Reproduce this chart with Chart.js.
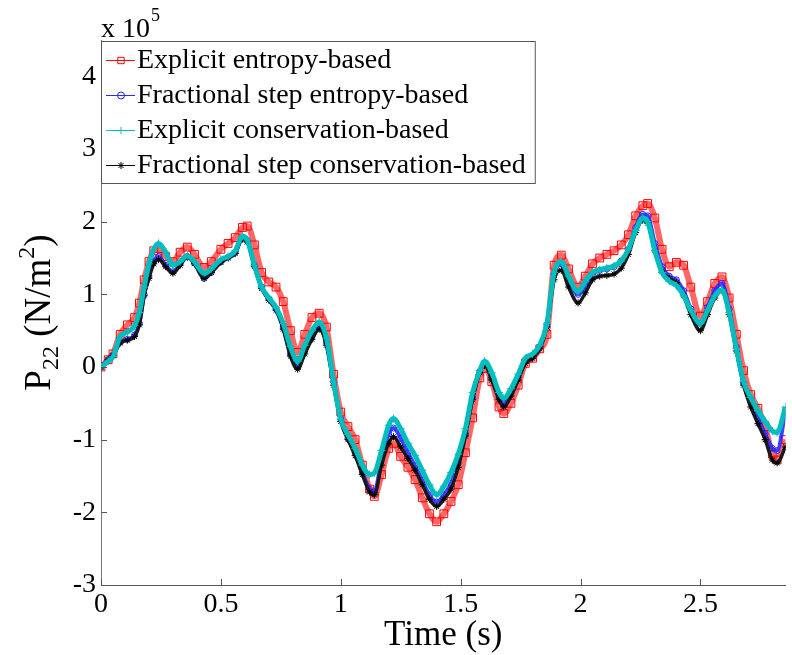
<!DOCTYPE html>
<html>
<head>
<meta charset="utf-8">
<title>P22 history</title>
<script src="https://cdn.jsdelivr.net/npm/chart.js@4.4.1/dist/chart.umd.min.js"></script>
<style>
  html, body { margin: 0; padding: 0; background: #fff; overflow: hidden; }
  canvas { display: block; }
</style>
</head>
<body>
<canvas id="p22Chart" width="792" height="655"></canvas>
<script>
// P22 vs time, values in units of 1e5 N/m^2
const time = [
  0, 0.03, 0.05, 0.08, 0.11, 0.14, 0.16, 0.18, 0.2, 0.22,
  0.24, 0.27, 0.3, 0.33, 0.36, 0.39, 0.43, 0.46, 0.5, 0.53,
  0.56, 0.59, 0.61, 0.64, 0.67, 0.7, 0.73, 0.76, 0.79, 0.82,
  0.85, 0.88, 0.91, 0.94, 0.97, 1.0, 1.03, 1.06, 1.09, 1.12,
  1.14, 1.17, 1.2, 1.22, 1.25, 1.28, 1.31, 1.34, 1.37, 1.4,
  1.43, 1.46, 1.49, 1.52, 1.55, 1.58, 1.6, 1.63, 1.66, 1.68,
  1.71, 1.74, 1.77, 1.8, 1.83, 1.86, 1.89, 1.92, 1.95, 1.99,
  2.02, 2.05, 2.08, 2.11, 2.14, 2.17, 2.2, 2.23, 2.26, 2.28,
  2.31, 2.34, 2.37, 2.4, 2.43, 2.46, 2.5, 2.53, 2.56, 2.59,
  2.62, 2.65, 2.68, 2.71, 2.74, 2.77, 2.8, 2.82, 2.855
];

const explicitEntropy = [
  0.0, 0.10, 0.18, 0.45, 0.58, 0.68, 0.88, 1.20, 1.45, 1.60,
  1.63, 1.52, 1.45, 1.58, 1.65, 1.55, 1.37, 1.45, 1.62, 1.70,
  1.78, 1.92, 1.94, 1.68, 1.30, 1.17, 1.10, 0.90, 0.50, 0.20,
  0.45, 0.68, 0.74, 0.55, -0.10, -0.62, -0.82, -1.00, -1.35, -1.68,
  -1.78, -1.48, -1.12, -1.05, -1.23, -1.38, -1.55, -1.80, -2.02, -2.13,
  -2.02, -1.85, -1.62, -1.18, -0.70, -0.15, -0.02, -0.20, -0.55, -0.64,
  -0.50, -0.25, 0.05, 0.12, 0.25, 0.45, 1.40, 1.54, 1.35, 1.10,
  1.25, 1.42, 1.50, 1.55, 1.60, 1.68, 1.82, 2.08, 2.22, 2.25,
  2.05, 1.62, 1.38, 1.44, 1.40, 1.10, 0.70, 0.90, 1.15, 1.24,
  0.95, 0.45, -0.05, -0.38, -0.57, -0.82, -1.20, -1.28, -1.00
];

const fractionalEntropy = [
  0.0, 0.10, 0.16, 0.34, 0.38, 0.44, 0.60, 1.00, 1.25, 1.45,
  1.52, 1.40, 1.31, 1.42, 1.52, 1.43, 1.22, 1.30, 1.45, 1.51,
  1.58, 1.77, 1.74, 1.40, 1.10, 0.94, 0.80, 0.55, 0.18, 0.00,
  0.22, 0.42, 0.55, 0.34, -0.20, -0.72, -0.98, -1.18, -1.45, -1.68,
  -1.72, -1.28, -0.92, -0.84, -0.98, -1.18, -1.36, -1.56, -1.76, -1.86,
  -1.76, -1.60, -1.32, -0.92, -0.42, -0.06, 0.04, -0.15, -0.42, -0.50,
  -0.36, -0.15, 0.08, 0.15, 0.28, 0.58, 1.28, 1.42, 1.20, 1.00,
  1.12, 1.28, 1.33, 1.35, 1.38, 1.46, 1.62, 1.92, 2.10, 2.08,
  1.70, 1.38, 1.25, 1.20, 1.05, 0.80, 0.60, 0.82, 1.05, 1.15,
  0.80, 0.28, -0.22, -0.48, -0.70, -0.92, -1.12, -1.15, -0.60
];

const explicitConservation = [
  0.0, 0.08, 0.14, 0.42, 0.48, 0.57, 0.75, 1.10, 1.42, 1.62,
  1.70, 1.58, 1.40, 1.45, 1.53, 1.45, 1.29, 1.35, 1.48, 1.52,
  1.60, 1.80, 1.75, 1.40, 1.10, 0.95, 0.82, 0.60, 0.28, 0.08,
  0.30, 0.50, 0.62, 0.40, -0.20, -0.72, -0.93, -1.12, -1.35, -1.48,
  -1.46, -1.15, -0.80, -0.71, -0.85, -1.05, -1.22, -1.42, -1.62, -1.76,
  -1.64, -1.45, -1.20, -0.85, -0.35, -0.05, 0.08, -0.08, -0.35, -0.43,
  -0.30, -0.10, 0.12, 0.18, 0.30, 0.60, 1.30, 1.45, 1.25, 1.04,
  1.18, 1.30, 1.34, 1.36, 1.39, 1.46, 1.62, 1.88, 2.05, 2.00,
  1.60, 1.30, 1.18, 1.12, 0.98, 0.78, 0.60, 0.78, 0.98, 1.06,
  0.75, 0.25, -0.20, -0.42, -0.60, -0.75, -0.88, -0.90, -0.55
];

const fractionalConservation = [
  0.0, 0.10, 0.16, 0.33, 0.37, 0.42, 0.58, 0.98, 1.22, 1.42,
  1.48, 1.38, 1.29, 1.40, 1.51, 1.42, 1.22, 1.30, 1.44, 1.50,
  1.56, 1.76, 1.72, 1.38, 1.08, 0.92, 0.78, 0.52, 0.15, -0.03,
  0.18, 0.38, 0.52, 0.30, -0.25, -0.75, -1.00, -1.22, -1.48, -1.72,
  -1.76, -1.35, -1.05, -0.96, -1.10, -1.26, -1.42, -1.62, -1.82, -1.92,
  -1.82, -1.68, -1.38, -0.95, -0.45, -0.08, 0.02, -0.18, -0.45, -0.55,
  -0.40, -0.18, 0.05, 0.12, 0.25, 0.55, 1.20, 1.33, 1.10, 0.88,
  1.02, 1.20, 1.25, 1.26, 1.28, 1.36, 1.55, 1.85, 2.02, 1.98,
  1.60, 1.32, 1.22, 1.16, 0.98, 0.72, 0.50, 0.72, 0.95, 1.05,
  0.72, 0.22, -0.25, -0.55, -0.78, -1.00, -1.28, -1.32, -1.10
];

const seriesNames = [
  "Explicit entropy-based",
  "Fractional step entropy-based",
  "Explicit conservation-based",
  "Fractional step conservation-based"
];

const xTicks = [0, 0.5, 1, 1.5, 2, 2.5];
const yTicks = [-3, -2, -1, 0, 1, 2, 3, 4];

const FONT = "'Liberation Serif', 'Times New Roman', serif";

function toPoints(values) {
  return values.map((v, i) => ({ x: time[i], y: v }));
}

// marker look per series (also used by the legend)
const styles = [
  { line: "rgba(255,0,0,0.6)", mark: "#ff0000", width: 6, pointStyle: "rect", radius: 5.5, order: 4 },
  { line: "rgba(30,30,255,0.85)", mark: "#2a2aff", width: 4, pointStyle: "circle", radius: 3, order: 3 },
  { line: "rgb(0,190,190)", mark: "rgb(0,190,190)", width: 5, pointStyle: "cross", radius: 4, order: 1 },
  { line: "#1a1a1a", mark: "#000", width: 3.5, pointStyle: "star", radius: 3.5, order: 2 }
];

const allValues = [explicitEntropy, fractionalEntropy, explicitConservation, fractionalConservation];

const datasets = allValues.map((vals, i) => ({
  label: seriesNames[i],
  data: toPoints(vals),
  borderColor: styles[i].line,
  borderWidth: styles[i].width,
  pointStyle: styles[i].pointStyle,
  pointRadius: styles[i].radius,
  pointBorderColor: styles[i].mark,
  pointBackgroundColor: "rgba(0,0,0,0)",
  pointBorderWidth: 1,
  cubicInterpolationMode: "monotone",
  order: styles[i].order
}));

// axes ticks inside, legend box, axis titles
const matlabFrame = {
  id: "matlabFrame",
  afterDraw(chart) {
    const { ctx, chartArea: area, scales: { x, y } } = chart;
    ctx.save();

    // inward tick marks
    ctx.strokeStyle = "#555";
    ctx.lineWidth = 1;
    ctx.beginPath();
    xTicks.forEach(v => {
      const px = Math.round(x.getPixelForValue(v)) + 0.5;
      ctx.moveTo(px, area.bottom);
      ctx.lineTo(px, area.bottom - 6);
    });
    yTicks.forEach(v => {
      const py = Math.round(y.getPixelForValue(v)) + 0.5;
      ctx.moveTo(area.left, py);
      ctx.lineTo(area.left + 6, py);
    });
    ctx.stroke();

    // legend
    ctx.font = "28px " + FONT;
    const textX = area.left + 36;
    const maxW = Math.max(...seriesNames.map(s => ctx.measureText(s).width));
    const boxL = area.left + 0.5, boxT = 41.5;
    const boxW = textX + maxW + 9 - area.left, boxH = 142;
    ctx.fillStyle = "#fff";
    ctx.fillRect(boxL, boxT, boxW, boxH);
    ctx.strokeStyle = "#555";
    ctx.strokeRect(boxL, boxT, boxW, boxH);
    seriesNames.forEach((name, i) => {
      const ry = 60 + i * 35;
      const st = styles[i];
      ctx.strokeStyle = st.mark;
      ctx.lineWidth = 1;
      ctx.beginPath();
      ctx.moveTo(area.left + 5, ry + 0.5);
      ctx.lineTo(area.left + 34, ry + 0.5);
      ctx.stroke();
      ctx.fillStyle = "rgba(0,0,0,0)";
      Chart.helpers.drawPoint(ctx, {
        pointStyle: st.pointStyle,
        radius: st.pointStyle === "rect" ? 4.5 : 3.5,
        rotation: 0,
        borderWidth: 1
      }, area.left + 20, ry + 0.5);
      ctx.fillStyle = "#000";
      ctx.textAlign = "left";
      ctx.textBaseline = "middle";
      ctx.fillText(name, textX, ry + 1);
    });

    // exponent label
    ctx.fillStyle = "#000";
    ctx.textBaseline = "alphabetic";
    ctx.textAlign = "left";
    ctx.font = "28px " + FONT;
    ctx.fillText("x 10", area.left, 37);
    const w10 = ctx.measureText("x 10").width;
    ctx.font = "18px " + FONT;
    ctx.fillText("5", area.left + w10 + 1, 21);

    // x title
    ctx.font = "35px " + FONT;
    ctx.textAlign = "center";
    ctx.fillText("Time (s)", (area.left + area.right) / 2, 645);

    // y title P_22 (N/m^2)
    const parts = [
      { t: "P", size: 37, dy: 0 },
      { t: "22", size: 24, dy: 8 },
      { t: " (N/m", size: 37, dy: 0 },
      { t: "2", size: 24, dy: -16 },
      { t: ")", size: 37, dy: 0 }
    ];
    let total = 0;
    parts.forEach(p => {
      ctx.font = p.size + "px " + FONT;
      p.w = ctx.measureText(p.t).width;
      total += p.w;
    });
    ctx.translate(50, (area.top + area.bottom) / 2);
    ctx.rotate(-Math.PI / 2);
    ctx.textAlign = "left";
    let cx = -total / 2;
    parts.forEach(p => {
      ctx.font = p.size + "px " + FONT;
      ctx.fillText(p.t, cx, p.dy);
      cx += p.w;
    });
    ctx.restore();
  }
};

const ctx = document.getElementById("p22Chart").getContext("2d");

const p22Chart = new Chart(ctx, {
  type: "line",
  data: { datasets: datasets },
  plugins: [matlabFrame],
  options: {
    responsive: false,
    animation: false,
    devicePixelRatio: 1,
    layout: { padding: { top: 40, right: 0, left: 0, bottom: 0 } },
    plugins: {
      legend: { display: false },
      tooltip: { enabled: false }
    },
    scales: {
      x: {
        type: "linear",
        min: 0,
        max: 2.855,
        afterBuildTicks: s => { s.ticks = xTicks.map(v => ({ value: v })); },
        afterFit: s => { s.height = 70; },
        grid: { display: false, drawTicks: false },
        border: { display: true, color: "#555", width: 1 },
        ticks: {
          autoSkip: false,
          maxRotation: 0,
          padding: 3,
          color: "#000",
          font: { family: FONT, size: 28 },
          callback: v => String(v)
        }
      },
      y: {
        type: "linear",
        min: -3,
        max: 4.5,
        afterBuildTicks: s => { s.ticks = yTicks.map(v => ({ value: v })); },
        afterFit: s => { s.width = 101; },
        grid: { display: false, drawTicks: false },
        border: { display: true, color: "#777", width: 1 },
        ticks: {
          autoSkip: false,
          padding: 5,
          color: "#000",
          font: { family: FONT, size: 28 },
          callback: v => String(v)
        }
      }
    }
  }
});
</script>
</body>
</html>
